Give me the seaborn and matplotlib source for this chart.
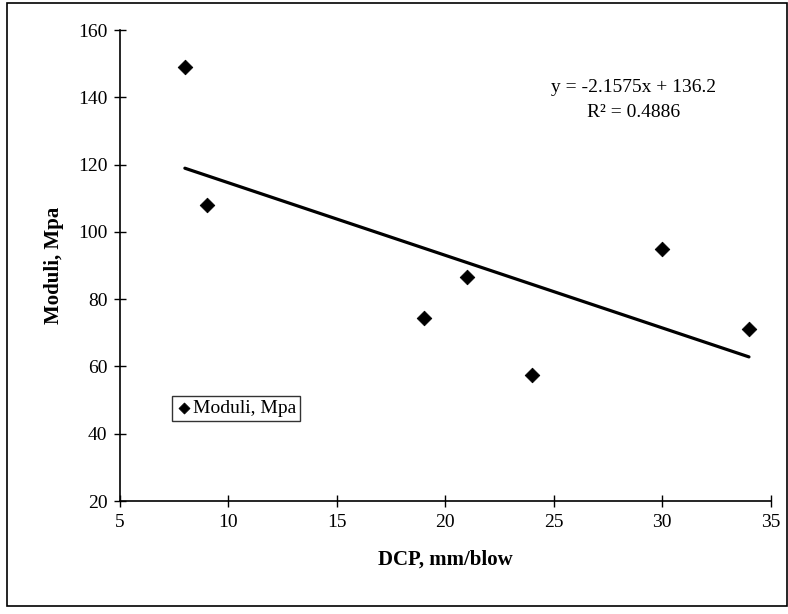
import matplotlib
matplotlib.use("Agg")
import matplotlib.pyplot as plt
import seaborn as sns
import numpy as np
import pandas as pd
from matplotlib.patches import Rectangle

# Field measurements: DCP penetration rate vs. backcalculated moduli
dcp = [8, 9, 19, 21, 24, 30, 34]
moduli = [149, 108, 74.5, 86.5, 57.5, 95, 71]

# Linear trendline as reported
slope = -2.1575
intercept = 136.2
r_squared = 0.4886

x_ticks = [5, 10, 15, 20, 25, 30, 35]
y_ticks = [20, 40, 60, 80, 100, 120, 140, 160]

sns.set_style("ticks")
plt.rcParams["font.family"] = ["Liberation Serif", "DejaVu Serif"]
plt.rcParams["text.color"] = "black"
plt.rcParams["axes.labelcolor"] = "black"

fig = plt.figure(figsize=(7.88, 6.14), dpi=100)
ax = fig.add_axes([0.152, 0.184, 0.826, 0.767])

df = pd.DataFrame({"DCP, mm/blow": dcp, "Moduli, Mpa": moduli})
sns.scatterplot(data=df, x="DCP, mm/blow", y="Moduli, Mpa", ax=ax,
                marker="D", s=55, color="black", edgecolor="black",
                label="Moduli, Mpa", zorder=3)

# Trendline over the data range
xl = np.array([min(dcp), max(dcp)])
ax.plot(xl, slope * xl + intercept, color="black", lw=2.3, zorder=2)

ax.set_xlim(5, 35)
ax.set_ylim(20, 160)
ax.set_xticks(x_ticks)
ax.set_yticks(y_ticks)
ax.tick_params(direction="inout", length=8, width=1, labelsize=14,
               colors="black", pad=5)
for side in ["top", "right"]:
    ax.spines[side].set_visible(False)
for side in ["left", "bottom"]:
    ax.spines[side].set_color("black")
    ax.spines[side].set_linewidth(1.2)

ax.set_xlabel("DCP, mm/blow", fontsize=15, fontweight="bold", labelpad=14)
ax.set_ylabel("Moduli, Mpa", fontsize=15, fontweight="bold", labelpad=10)

ax.text(0.79, 0.878, f"y = {slope}x + {intercept}", transform=ax.transAxes,
        ha="center", va="center", fontsize=14)
ax.text(0.79, 0.825, f"R\u00b2 = {r_squared}", transform=ax.transAxes,
        ha="center", va="center", fontsize=14)

leg = ax.legend(loc="lower left", bbox_to_anchor=(0.081, 0.17), frameon=True,
                fancybox=False, edgecolor="black", fontsize=14,
                handletextpad=0.05, borderpad=0.2, handlelength=0.8,
                borderaxespad=0, markerscale=0.75)
leg.get_frame().set_linewidth(1.0)

# Frame around the whole chart area
fig.patches.append(Rectangle((0.009, 0.013), 0.99, 0.982, transform=fig.transFigure,
                             fill=False, edgecolor="black", lw=1.2))

fig.savefig("out.png", dpi=100, facecolor="white")
